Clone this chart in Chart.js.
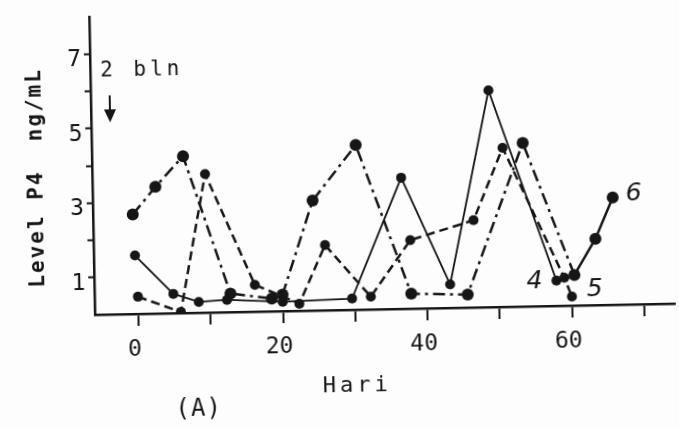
<!doctype html>
<html lang="id">
<head>
<meta charset="utf-8">
<script src="https://cdn.jsdelivr.net/npm/chart.js"></script>
<style>
  body { margin: 0; background: #fdfdfd; overflow: hidden; }
  /* the scanned figure sits slightly askew */
  canvas { display: block; transform: rotate(-1.1deg); }
</style>
</head>
<body>
<canvas id="grafik" width="679" height="428"></canvas>
<script>
// hari (days) and progesterone level (ng/mL) per cow
const hari4 = [-0.3, 4.9, 8.4, 12.3, 20.0, 29.6, 36.7, 43.2, 49.0, 57.9];
const p4_4  = [1.57, 0.52, 0.29, 0.33, 0.25, 0.30, 3.52, 0.63, 5.82, 0.68];

const hari5 = [0.0, 5.9, 9.6, 16.2, 22.3, 26.0, 32.2, 37.8, 46.6, 50.8, 59.0, 60.0];
const p4_5  = [0.46, 0.03, 3.72, 0.72, 0.19, 1.75, 0.34, 1.84, 2.34, 4.27, 0.75, 0.24];

const hari6 = [-0.5, 2.7, 6.6, 12.8, 18.5, 20.0, 24.4, 30.5, 37.8, 45.6, 53.6, 60.4, 63.4, 65.9];
const p4_6  = [2.67, 3.40, 4.21, 0.50, 0.34, 0.44, 2.95, 4.42, 0.40, 0.35, 4.39, 0.82, 1.78, 2.88];

const xTicks = [0, 10, 20, 30, 40, 50, 60, 70];
const xLabels = [0, 20, 40, 60];
const yTicks = [1, 2, 3, 4, 5, 6, 7];
const yLabels = [1, 3, 5, 7];

const ink = '#161616';
const mono = '"DejaVu Sans Mono", monospace';

function pts(xs, ys) {
    return xs.map((x, i) => ({ x: x, y: ys[i] }));
}

const notes = {
    id: 'notes',
    beforeDraw(chart) {
        const ctx = chart.ctx;
        ctx.save();
        ctx.fillStyle = '#fdfdfd';
        ctx.fillRect(0, 0, chart.width, chart.height);
        ctx.restore();
    },
    afterDraw(chart) {
        const ctx = chart.ctx;
        ctx.save();
        ctx.fillStyle = ink;
        ctx.strokeStyle = ink;
        ctx.textBaseline = 'middle';

        // 2 bln + arrow
        ctx.font = '21px ' + mono;
        ctx.letterSpacing = '4px';
        ctx.textAlign = 'left';
        ctx.fillText('2 bln', 103, 67);
        ctx.lineWidth = 2;
        ctx.beginPath();
        ctx.moveTo(112, 91);
        ctx.lineTo(112, 108);
        ctx.stroke();
        ctx.beginPath();
        ctx.moveTo(106, 105);
        ctx.lineTo(118, 105);
        ctx.lineTo(112, 118);
        ctx.closePath();
        ctx.fill();

        // axis titles
        ctx.font = '22px ' + mono;
        ctx.letterSpacing = '4px';
        ctx.textAlign = 'center';
        ctx.fillText('Hari', 354, 386);
        ctx.font = '24px ' + mono;
        ctx.letterSpacing = '1px';
        ctx.fillText('(A)', 195, 407);

        ctx.save();
        ctx.translate(38, 172);
        ctx.rotate(-Math.PI / 2);
        ctx.font = 'bold 21px ' + mono;
        ctx.letterSpacing = '2px';
        ctx.fillText('Level P4  ng/mL', 0, 0);
        ctx.restore();

        // cow numbers at the line ends
        ctx.font = 'italic 25px "DejaVu Sans"';
        ctx.letterSpacing = '0px';
        const ends = [[0, '4', -22, 1], [1, '5', 23, -7], [2, '6', 21, -3]];
        ends.forEach(([ds, txt, dx, dy]) => {
            const meta = chart.getDatasetMeta(ds);
            const p = meta.data[meta.data.length - 1];
            ctx.fillText(txt, p.x + dx, p.y + dy);
        });
        ctx.restore();
    }
};

const tickFont = { family: mono, size: 23 };

new Chart(document.getElementById('grafik'), {
    type: 'line',
    data: {
        datasets: [{
            label: '4',
            data: pts(hari4, p4_4),
            borderColor: ink,
            backgroundColor: ink,
            borderWidth: 1.8,
            pointRadius: 5,
            pointBorderWidth: 0
        }, {
            label: '5',
            data: pts(hari5, p4_5),
            borderColor: ink,
            backgroundColor: ink,
            borderWidth: 2.5,
            borderDash: [9, 5],
            pointRadius: 5,
            pointBorderWidth: 0
        }, {
            label: '6',
            data: pts(hari6, p4_6),
            borderColor: ink,
            backgroundColor: ink,
            borderWidth: 2.5,
            borderDash: [12, 5, 3, 5],
            segment: {
                borderDash: c => c.p0DataIndex >= 11 ? [] : undefined
            },
            pointRadius: 6,
            pointBorderWidth: 0
        }]
    },
    options: {
        responsive: false,
        animation: false,
        layout: { padding: { top: 12, right: 0, bottom: 0, left: 0 } },
        plugins: {
            legend: { display: false },
            tooltip: { enabled: false }
        },
        scales: {
            x: {
                type: 'linear',
                min: -6,
                max: 74.2,
                afterBuildTicks: s => { s.ticks = xTicks.map(v => ({ value: v })); },
                afterFit: s => { s.height = 118; s.paddingLeft = 0; s.paddingRight = 0; },
                ticks: {
                    autoSkip: false,
                    maxRotation: 0,
                    padding: 10,
                    labelOffset: -4,
                    color: ink,
                    font: tickFont,
                    callback: v => xLabels.includes(v) ? String(v) : ''
                },
                grid: { drawOnChartArea: false, tickLength: 12, tickWidth: 2, color: ink },
                border: { width: 2.5, color: ink }
            },
            y: {
                min: 0,
                max: 8,
                afterBuildTicks: s => { s.ticks = yTicks.map(v => ({ value: v })); },
                afterFit: s => { s.width = 93; s.paddingTop = 0; s.paddingBottom = 0; },
                ticks: {
                    padding: 3,
                    labelOffset: 6,
                    color: ink,
                    font: tickFont,
                    callback: v => yLabels.includes(v) ? String(v) : ''
                },
                grid: { drawOnChartArea: false, tickLength: 6, tickWidth: 2, color: ink },
                border: { width: 2.5, color: ink }
            }
        }
    },
    plugins: [notes]
});
</script>
</body>
</html>
